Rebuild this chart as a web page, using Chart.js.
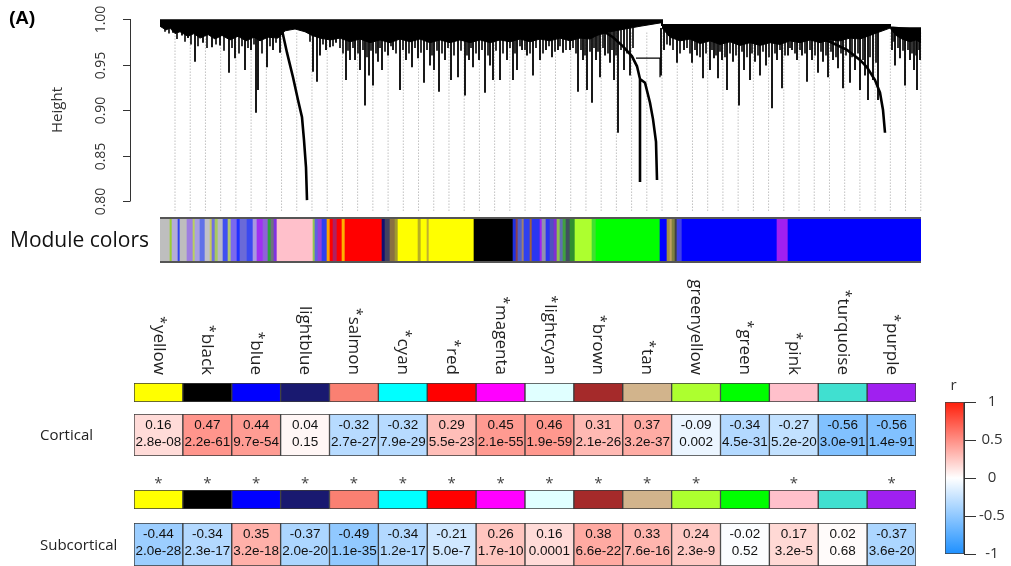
<!DOCTYPE html>
<html>
<head>
<meta charset="utf-8">
<script src="https://cdn.jsdelivr.net/npm/chart.js@4.4.0/dist/chart.umd.min.js"></script>
<style>
  html, body { margin: 0; padding: 0; background: #fff; }
  #wrap { position: relative; width: 1011px; height: 566px; overflow: hidden; }
  canvas { position: absolute; left: 0; }
</style>
</head>
<body>
<div id="wrap">
  <canvas id="dendro" width="1011" height="215" style="top:0"></canvas>
  <canvas id="modules" width="1011" height="50" style="top:215px"></canvas>
  <canvas id="bar1" width="1011" height="135" style="top:270px"></canvas>
  <canvas id="cortical" width="1011" height="60" style="top:405px"></canvas>
  <canvas id="bar2" width="1011" height="48" style="top:465px"></canvas>
  <canvas id="subcortical" width="1011" height="53" style="top:513px"></canvas>
  <canvas id="legend" width="111" height="191" style="top:375px;left:900px"></canvas>
</div>
<script>
// ---- dendrogram (leaf order 0..761) ----
const heightTicks = [0.80, 0.85, 0.90, 0.95, 1.00];
const leafCount = 761;
const spikeTop = 0.99;

const treeTopLines = [
  [[0, 0.9985], [502, 0.9985], [502, 0.9935], [730, 0.9935], [730, 0.991], [761, 0.988]]
];

// deep branches
const treeSpikes = [
  [13,0.985],[22,0.982],[28,0.979],[35,0.953],[43,0.974],[52,0.969],[60,0.971],[69,0.941],[75,0.957],
  [85,0.944],[91,0.966],[96,0.897],[98,0.922],[107,0.947],[113,0.966],[120,0.963],
  [153,0.942],[157,0.931],[160,0.960],[166,0.966],[170,0.969],
  [176,0.974],[186,0.933],[190,0.955],[195,0.955],[200,0.944],[205,0.905],[209,0.938],[213,0.927],
  [218,0.953],[222,0.944],[228,0.960],[233,0.966],[240,0.922],[246,0.955],[252,0.947],[258,0.957],
  [264,0.930],[270,0.949],[274,0.944],[279,0.920],[285,0.955],[291,0.933],[298,0.936],[305,0.916],
  [309,0.955],[313,0.947],[319,0.955],[325,0.919],[330,0.949],[333,0.933],[340,0.933],[347,0.955],
  [353,0.933],[357,0.944],[362,0.966],[367,0.960],[373,0.938],[380,0.955],[386,0.966],[392,0.958],
  [398,0.966],[403,0.963],[410,0.966],[418,0.920],[423,0.955],[427,0.922],[432,0.908],[436,0.955],
  [440,0.936],[445,0.960],[450,0.952],[454,0.933],[458,0.875],[464,0.944],[470,0.938],
  [501,0.938],[504,0.966],[510,0.971],[517,0.952],[524,0.966],[532,0.952],[537,0.960],[543,0.935],
  [550,0.944],[554,0.957],[558,0.935],[562,0.955],[567,0.922],[573,0.953],[579,0.905],[584,0.944],
  [590,0.933],[595,0.953],[600,0.938],[606,0.949],[612,0.902],[617,0.955],[622,0.924],[628,0.960],
  [632,0.966],[637,0.955],[642,0.960],[647,0.931],[652,0.955],[658,0.941],[663,0.953],[668,0.936],
  [673,0.955],[678,0.946],[683,0.924],[690,0.930],[695,0.944],[700,0.922],[705,0.938],[708,0.911],
  [713,0.933],[718,0.911],
  [732,0.966],[735,0.949],[740,0.957],[745,0.927],[750,0.955],[754,0.944],[757,0.922],[760,0.955]
];

// shallow branches filling the dense fringe
const treeMinor = [
  [5,0.986],[9,0.984],[17,0.978],[25,0.975],[31,0.972],[38,0.970],[47,0.968],[56,0.972],[64,0.965],
  [72,0.968],[79,0.962],[82,0.970],[88,0.968],[94,0.972],[102,0.962],[110,0.970],[116,0.974],
  [150,0.975],[163,0.972],[173,0.970],[180,0.968],[183,0.962],[188,0.965],[193,0.968],[198,0.962],
  [203,0.966],[207,0.958],[211,0.965],[216,0.962],[220,0.968],[225,0.964],[231,0.970],[236,0.962],
  [243,0.966],[249,0.962],[255,0.968],[261,0.963],[267,0.966],[272,0.960],[277,0.965],[282,0.962],
  [288,0.968],[294,0.960],[301,0.965],[307,0.960],[311,0.968],[316,0.962],[322,0.966],[328,0.960],
  [336,0.965],[343,0.962],[350,0.968],[355,0.962],[360,0.970],[365,0.966],[370,0.962],[376,0.968],
  [383,0.962],[389,0.970],[395,0.964],[400,0.970],[406,0.966],[413,0.968],[416,0.962],[421,0.966],
  [425,0.960],[430,0.964],[434,0.968],[438,0.964],[443,0.968],[448,0.962],[452,0.966],[456,0.960],
  [461,0.966],[467,0.962],[473,0.968],
  [507,0.972],[513,0.966],[520,0.962],[527,0.968],[530,0.962],[535,0.966],[540,0.958],[546,0.962],
  [552,0.966],[556,0.960],[560,0.964],[565,0.958],[570,0.962],[576,0.960],[582,0.964],[587,0.958],
  [592,0.962],[598,0.960],[603,0.964],[609,0.958],[615,0.962],[620,0.966],[625,0.960],[630,0.968],
  [635,0.962],[640,0.966],[645,0.962],[650,0.966],[655,0.960],[661,0.964],[666,0.960],[671,0.964],
  [676,0.958],[681,0.962],[686,0.960],[692,0.958],[698,0.962],[703,0.955],[710,0.958],[716,0.952],
  [734,0.975],[738,0.968],[743,0.965],[748,0.966],[752,0.962],[756,0.960],[759,0.966]
];

const treeTails = [
  [[122,0.988],[127,0.963],[133,0.936],[138,0.911],[142,0.892],[144,0.867],[146,0.837],[147,0.801]],
  [[437,0.991],[453,0.980],[463,0.970],[472,0.959],[477,0.948],[480,0.934],[480,0.821]],
  [[480,0.934],[485,0.930],[490,0.908],[493,0.890],[496,0.865],[497,0.823]],
  [[643,0.986],[670,0.975],[687,0.966],[700,0.955],[707,0.947],[715,0.933],[720,0.919],[723,0.900],[725,0.875]]
];
const treeLinks = [
  [[476,0.957],[500,0.957],[500,0.936]]
];

const bandLeft = [[0,0.992],[6,0.988],[10,0.990],[15,0.984],[20,0.986],[28,0.981],[34,0.984],[40,0.979],
  [48,0.983],[55,0.978],[62,0.982],[70,0.977],[78,0.981],[86,0.976],[94,0.980],[100,0.976],[108,0.980],
  [118,0.979],[125,0.987],[135,0.989],[145,0.986],[152,0.982],[160,0.979],[170,0.977],[180,0.979],
  [190,0.975],[200,0.978],[210,0.974],[220,0.977],[230,0.974],[240,0.978],[250,0.975],[260,0.978],
  [270,0.974],[280,0.977],[290,0.974],[300,0.977],[310,0.974],[320,0.977],[330,0.974],[340,0.977],
  [350,0.975],[360,0.978],[370,0.975],[380,0.978],[390,0.976],[400,0.979],[410,0.976],[420,0.979],
  [430,0.978],[437,0.982],[450,0.986],[460,0.988],[480,0.992],[502,0.996]];
const bandMid = [[502,0.990],[510,0.980],[520,0.976],[530,0.978],[540,0.973],[550,0.976],[560,0.972],
  [570,0.975],[580,0.971],[590,0.974],[600,0.971],[610,0.974],[620,0.972],[630,0.976],[640,0.974],
  [650,0.977],[660,0.974],[670,0.977],[680,0.976],[690,0.979],[700,0.978],[710,0.982],[720,0.986],[730,0.990]];
const bandRight = [[730,0.990],[736,0.982],[742,0.978],[750,0.975],[756,0.977],[761,0.974]];

const guideCount = 50;

// ---- module colour strip [start, end, colour] in leaf order ----
const moduleSegments = [
  [0,10,'#bebebe'],[10,12,'#9acd32'],[12,18,'#b4acd8'],[18,20,'#3040f0'],[20,27,'#bebebe'],
  [27,33,'#9d7fe0'],[33,35,'#b8d060'],[35,40,'#a8a0e0'],[40,45,'#6070e8'],[45,50,'#c0c0c8'],
  [50,52,'#c8c860'],[52,55,'#7070e0'],[55,58,'#a8c860'],[58,63,'#b8b8c8'],[63,68,'#4050f0'],
  [68,71,'#b0c870'],[71,77,'#7b68ee'],[77,80,'#2030ff'],[80,87,'#6a6ad8'],[87,93,'#3a4af0'],
  [93,97,'#a898e0'],[97,103,'#a030f0'],[103,108,'#9060d8'],[108,111,'#30a040'],[111,114,'#707080'],
  [114,117,'#8030e0'],[117,153,'#ffc0cb'],[153,155,'#90c850'],[155,158,'#6060e0'],[158,162,'#9040e0'],
  [162,167,'#3040f0'],[167,170,'#ffa500'],[170,173,'#ff0000'],[173,177,'#b02060'],[177,182,'#ff0000'],
  [182,185,'#ffb000'],[185,222,'#ff0000'],[222,225,'#101070'],[225,230,'#404060'],[230,235,'#8a7040'],
  [235,238,'#a09830'],[238,258,'#ffff00'],[258,261,'#b8b020'],[261,267,'#ffff00'],[267,269,'#c0b030'],
  [269,314,'#ffff00'],[314,353,'#000000'],[353,356,'#2030e0'],[356,358,'#8a4050'],[358,362,'#5060d0'],
  [362,364,'#a08070'],[364,370,'#3040f0'],[370,372,'#a0603c'],[372,380,'#2a36f0'],[380,382,'#a020f0'],
  [382,386,'#9090b0'],[386,390,'#2a36f0'],[390,394,'#5050c0'],[394,397,'#8030d0'],[397,400,'#90c050'],
  [400,403,'#6070b0'],[403,406,'#40a040'],[406,410,'#405060'],[410,415,'#309030'],[415,432,'#adff2f'],
  [432,436,'#40e030'],[436,500,'#00ff00'],[500,507,'#0000ff'],[507,510,'#a09040'],[510,512,'#c0a060'],
  [512,515,'#808040'],[515,517,'#404040'],[517,522,'#4040e8'],[522,617,'#0000ff'],[617,628,'#a020f0'],
  [628,761,'#0000ff']
];

// ---- module–trait heatmap ----
const modules = ['yellow','black','blue','lightblue','salmon','cyan','red','magenta','lightcyan',
  'brown','tan','greenyellow','green','pink','turquoise','purple'];
const moduleColors = ['#ffff00','#000000','#0000ff','#191970','#fa8072','#00ffff','#ff0000','#ff00ff',
  '#e0ffff','#a52a2a','#d2b48c','#adff2f','#00ff00','#ffc0cb','#40e0d0','#a020f0'];
const corticalR = [0.16,0.47,0.44,0.04,-0.32,-0.32,0.29,0.45,0.46,0.31,0.37,-0.09,-0.34,-0.27,-0.56,-0.56];
const corticalP = ['2.8e-08','2.2e-61','9.7e-54','0.15','2.7e-27','7.9e-29','5.5e-23','2.1e-55',
  '1.9e-59','2.1e-26','3.2e-37','0.002','4.5e-31','5.2e-20','3.0e-91','1.4e-91'];
const corticalSig = [1,1,1,0,1,1,1,1,1,1,1,0,1,1,1,1];
const subcorticalR = [-0.44,-0.34,0.35,-0.37,-0.49,-0.34,-0.21,0.26,0.16,0.38,0.33,0.24,-0.02,0.17,0.02,-0.37];
const subcorticalP = ['2.0e-28','2.3e-17','3.2e-18','2.0e-20','1.1e-35','1.2e-17','5.0e-7','1.7e-10',
  '0.0001','6.6e-22','7.6e-16','2.3e-9','0.52','3.2e-5','0.68','3.6e-20'];
const subcorticalSig = [1,1,1,1,1,1,1,1,1,1,1,1,0,1,0,1];
const legendTicks = [1, 0.5, 0, -0.5, -1];

const LABEL_FONT = '"Open Sans", "Noto Sans", sans-serif';
const CELL_FONT = '"Liberation Sans", Arial, sans-serif';

function rColor(r) {
  const lo = [30, 144, 255], hi = [255, 30, 10];
  const t = Math.min(1, Math.abs(r));
  const end = r < 0 ? lo : hi;
  const c = end.map(v => Math.round(255 + (v - 255) * t));
  return 'rgb(' + c.join(',') + ')';
}

// polylines -> one dataset with gaps between them
function toPath(lines) {
  const out = [];
  lines.forEach(line => {
    line.forEach(([x, y]) => out.push({ x, y }));
    out.push({ x: line[line.length - 1][0], y: null });
  });
  return out;
}
const drops = list => toPath(list.map(([u, h]) => [[u, spikeTop], [u, h]]));

const baseOpts = {
  responsive: false,
  animation: false,
  events: [],
  plugins: { legend: { display: false }, tooltip: { enabled: false } }
};

// guide lines hang below every n-th leaf
const guideStep = leafCount / guideCount;
const guides = [];
for (let k = 0; k < guideCount; k++) {
  const g = 15 + k * guideStep;
  guides.push([[g, 0.985], [g, 0.788]]);
}

const dendroAxis = {
  id: 'dendroAxis',
  afterDraw(chart) {
    const { ctx, scales: { y } } = chart;
    ctx.save();
    ctx.strokeStyle = '#333';
    ctx.lineWidth = 1;
    ctx.beginPath();
    ctx.moveTo(130.5, y.getPixelForValue(1.0));
    ctx.lineTo(130.5, y.getPixelForValue(0.8));
    ctx.stroke();
    ctx.fillStyle = '#333';
    ctx.font = '14px ' + LABEL_FONT;
    ctx.textAlign = 'center';
    ctx.textBaseline = 'middle';
    heightTicks.forEach(t => {
      const py = Math.round(y.getPixelForValue(t)) + 0.5;
      ctx.beginPath();
      ctx.moveTo(123, py);
      ctx.lineTo(130.5, py);
      ctx.stroke();
      ctx.save();
      ctx.translate(101, py);
      ctx.rotate(-Math.PI / 2);
      ctx.fillText(t.toFixed(2), 0, 0);
      ctx.restore();
    });
    ctx.save();
    ctx.translate(58, 110);
    ctx.rotate(-Math.PI / 2);
    ctx.font = '15px ' + LABEL_FONT;
    ctx.fillText('Height', 0, 0);
    ctx.restore();
    ctx.textAlign = 'left';
    ctx.fillStyle = '#000';
    ctx.font = 'bold 19px ' + CELL_FONT;
    ctx.fillText('(A)', 9, 19);
    ctx.restore();
  }
};

new Chart(document.getElementById('dendro'), {
  type: 'line',
  data: {
    datasets: [
      { data: toPath(treeTopLines), borderColor: '#000', borderWidth: 2 },
      { data: toPath(treeTails), borderColor: '#000', borderWidth: 2.6 },
      { data: toPath(treeLinks), borderColor: '#000', borderWidth: 1.2 },
      { data: drops(treeSpikes), borderColor: '#000', borderWidth: 1.8 },
      { data: drops(treeMinor), borderColor: '#000', borderWidth: 1.6 },
      { data: bandLeft.map(([x, y]) => ({ x, y })), fill: { value: 0.9985 }, backgroundColor: '#000', borderColor: '#000', borderWidth: 1 },
      { data: bandMid.map(([x, y]) => ({ x, y })), fill: { value: 0.9935 }, backgroundColor: '#000', borderColor: '#000', borderWidth: 1 },
      { data: bandRight.map(([x, y]) => ({ x, y })), fill: { value: 0.991 }, backgroundColor: '#000', borderColor: '#000', borderWidth: 1 },
      { data: toPath(guides), borderColor: '#a0a0a0', borderWidth: 1, borderDash: [1, 2], clip: false, order: 10 }
    ]
  },
  options: Object.assign({}, baseOpts, {
    layout: { padding: { left: 160, right: 90, top: 19, bottom: 14 } },
    elements: { point: { radius: 0 }, line: { tension: 0 } },
    scales: {
      x: { type: 'linear', min: 0, max: leafCount, display: false },
      y: { min: 0.8, max: 1.0, display: false }
    }
  }),
  plugins: [dendroAxis]
});

// module colour strip
new Chart(document.getElementById('modules'), {
  type: 'bar',
  data: {
    labels: ['Module colors'],
    datasets: [{
      data: moduleSegments.map(s => ({ x: [s[0], s[1]], y: 'Module colors' })),
      backgroundColor: moduleSegments.map(s => s[2]),
      borderWidth: 0, barPercentage: 1, categoryPercentage: 1, grouped: false
    }]
  },
  options: Object.assign({}, baseOpts, {
    indexAxis: 'y',
    layout: { padding: { left: 160, right: 90, top: 2, bottom: 2 } },
    scales: {
      x: { type: 'linear', min: 0, max: leafCount, display: false },
      y: { display: false }
    }
  }),
  plugins: [{
    id: 'moduleFrame',
    afterDraw(chart) {
      const { ctx, chartArea: a } = chart;
      ctx.save();
      ctx.strokeStyle = '#555';
      ctx.lineWidth = 2;
      ctx.beginPath();
      ctx.moveTo(a.left, a.top + 1); ctx.lineTo(a.right, a.top + 1);
      ctx.moveTo(a.left, a.bottom - 1); ctx.lineTo(a.right, a.bottom - 1);
      ctx.stroke();
      ctx.fillStyle = '#111';
      ctx.font = '21px ' + LABEL_FONT;
      ctx.textBaseline = 'middle';
      ctx.fillText('Module colors', 10, (a.top + a.bottom) / 2 + 1);
      ctx.restore();
    }
  }]
});

function rowChart(id, colors, top, bottom, plugin) {
  return new Chart(document.getElementById(id), {
    type: 'bar',
    data: {
      labels: modules,
      datasets: [{
        data: modules.map(() => [0, 1]),
        backgroundColor: colors,
        borderColor: '#3a3a3a', borderWidth: 1, borderSkipped: false,
        barPercentage: 1, categoryPercentage: 1
      }]
    },
    options: Object.assign({}, baseOpts, {
      layout: { padding: { left: 134, right: 95, top, bottom } },
      scales: { x: { display: false }, y: { display: false, min: 0, max: 1 } }
    }),
    plugins: [plugin]
  });
}

rowChart('bar1', moduleColors, 113, 3, {
  id: 'colLabels',
  afterDraw(chart) {
    const { ctx, scales: { x }, chartArea } = chart;
    ctx.save();
    ctx.fillStyle = '#222';
    modules.forEach((m, i) => {
      const cx = x.getPixelForValue(i);
      ctx.save();
      ctx.translate(cx, chartArea.top - 8);
      ctx.rotate(Math.PI / 2);
      ctx.font = '17px ' + LABEL_FONT;
      ctx.textAlign = 'right';
      ctx.textBaseline = 'middle';
      ctx.fillText(m, 0, 0);
      if (corticalSig[i]) {
        const w = ctx.measureText(m).width;
        ctx.font = '14px ' + LABEL_FONT;
        ctx.textBaseline = 'alphabetic';
        ctx.fillText('*', -w - 1, 2);
      }
      ctx.restore();
    });
    ctx.restore();
  }
});

function cellText(name, rVals, pVals) {
  return {
    id: 'cells_' + name,
    afterDatasetsDraw(chart) {
      const { ctx } = chart;
      const meta = chart.getDatasetMeta(0);
      ctx.save();
      ctx.fillStyle = '#111';
      ctx.font = '13.5px ' + CELL_FONT;
      ctx.textAlign = 'center';
      ctx.textBaseline = 'middle';
      let cy = 0;
      meta.data.forEach((bar, i) => {
        cy = (bar.y + bar.base) / 2;
        ctx.fillText(rVals[i].toFixed(2), bar.x, cy - 10);
        ctx.fillText(pVals[i], bar.x, cy + 7);
      });
      ctx.fillStyle = '#222';
      ctx.font = '15px ' + LABEL_FONT;
      ctx.textAlign = 'left';
      ctx.fillText(name, 40, cy + 1);
      ctx.restore();
    }
  };
}

rowChart('cortical', corticalR.map(rColor), 9, 9, cellText('Cortical', corticalR, corticalP));

rowChart('bar2', moduleColors, 25, 4, {
  id: 'subStars',
  afterDraw(chart) {
    const { ctx, scales: { x }, chartArea } = chart;
    ctx.save();
    ctx.fillStyle = '#444';
    ctx.font = '15px ' + LABEL_FONT;
    ctx.textAlign = 'center';
    ctx.textBaseline = 'alphabetic';
    subcorticalSig.forEach((s, i) => {
      if (s) ctx.fillText('*', x.getPixelForValue(i), chartArea.top - 2);
    });
    ctx.restore();
  }
});

rowChart('subcortical', subcorticalR.map(rColor), 10, 0, cellText('Subcortical', subcorticalR, subcorticalP));

// colour key
new Chart(document.getElementById('legend'), {
  type: 'bar',
  data: {
    labels: ['r'],
    datasets: [{
      data: [[-1, 1]],
      backgroundColor: (c) => {
        const chart = c.chart;
        if (!chart.chartArea) return '#fff';
        const y = chart.scales.y;
        const top = y.getPixelForValue(1), bot = y.getPixelForValue(-1);
        const g = chart.ctx.createLinearGradient(0, top, 0, bot);
        legendTicks.forEach(t => g.addColorStop((y.getPixelForValue(t) - top) / (bot - top), rColor(t)));
        return g;
      },
      borderColor: '#444', borderWidth: 1, borderSkipped: false,
      barPercentage: 1, categoryPercentage: 1
    }]
  },
  options: Object.assign({}, baseOpts, {
    layout: { padding: { left: 45, right: 0, top: 27, bottom: 10 } },
    scales: {
      x: { display: false },
      y: {
        position: 'right', min: -1, max: 1,
        afterFit(s) { s.width = 47; },
        ticks: { stepSize: 0.5, color: '#333', font: { size: 15, family: LABEL_FONT }, crossAlign: 'center', padding: 3,
          callback: v => String(v) },
        grid: { drawOnChartArea: false, drawTicks: true, tickLength: 12, color: '#333' },
        border: { display: true, color: '#333', width: 1 }
      }
    }
  }),
  plugins: [{
    id: 'keyTitle',
    afterDraw(chart) {
      const { ctx, chartArea: a } = chart;
      ctx.save();
      ctx.fillStyle = '#333';
      ctx.font = '15px ' + LABEL_FONT;
      ctx.textAlign = 'center';
      ctx.textBaseline = 'middle';
      ctx.fillText('r', (a.left + a.right) / 2 - 1, a.top - 16);
      ctx.restore();
    }
  }]
});
</script>
</body>
</html>
